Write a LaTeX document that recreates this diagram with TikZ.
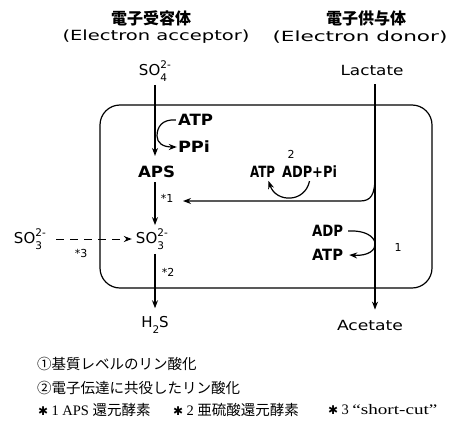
\documentclass[tikz,border=0pt]{standalone}
\usepackage{fontspec}
\usepackage{graphicx}
\usetikzlibrary{arrows.meta}
\newfontfamily\djv{DejaVu Sans}
\newfontfamily\jpf{Noto Sans CJK JP}
\newfontfamily\serf{Liberation Serif}
\newcommand\fitw[2]{\resizebox{#1}{\height}{#2}}
\newcommand\ionz[3]{#1\rlap{\raisebox{0.5em}{\fontsize{10.5}{10.5}\selectfont #3}}\raisebox{-0.4em}{\fontsize{10.5}{10.5}\selectfont #2}}
\tikzset{
  ln/.style={line width=1.2pt},
  arr/.style={ln, -{Stealth[length=8pt,width=6pt]}},
  lab/.style={inner sep=0pt, font=\djv\fontsize{14}{16}\selectfont},
  ionlab/.style={inner sep=0pt, font=\djv\fontsize{15}{17}\selectfont},
  blab/.style={inner sep=0pt, font=\djv\bfseries\fontsize{15.5}{17}\selectfont},
  sml/.style={inner sep=0pt, font=\djv\fontsize{11}{13}\selectfont},
  jph/.style={inner sep=0pt, font=\jpf\bfseries\fontsize{16}{18}\selectfont},
  fn/.style={inner sep=0pt, anchor=west, font=\jpf\fontsize{14.5}{16}\selectfont},
}
\newcommand\starx{{\djv\fontsize{12}{14}\selectfont ✱}}
\begin{document}
\begin{tikzpicture}[x=1pt,y=-1pt]
\useasboundingbox (0,0) rectangle (449,423);
% column guides
\coordinate (L) at (155,0);
\coordinate (R) at (375,0);
% headers
\node[jph] (hJ1) at (151,18) {電子受容体};
\node[lab] (hE1) at (156,37) {\fitw{187pt}{(Electron acceptor)}};
\node[jph] (hJ2) at (366,18) {電子供与体};
\node[lab] (hE2) at (360,37) {\fitw{175pt}{(Electron donor)}};
% cell box
\draw[ln, rounded corners=20pt] (100,105) rectangle (432,288);
% left column
\node[ionlab] (so4) at (153,71) {\ionz{SO}{4}{2-}};
\node[blab] (atp1) at (195.5,120) {\fitw{35pt}{ATP}};
\node[blab] (ppi) at (194,147) {\fitw{32pt}{PPi}};
\node[blab] (aps) at (156.5,172) {\fitw{37pt}{APS}};
\node[ionlab] (so3) at (150,239) {\ionz{SO}{3}{2-}};
\node[ionlab] (so3L) at (28,239) {\ionz{SO}{3}{2-}};
\node[ionlab] (h2s) at (155,325) {\ionz{H}{2}{}S};
\node[sml] (s1) at (167,198) {*1};
\node[sml] (s2) at (168,272) {*2};
\node[sml] (s3) at (81,253) {*3};
% right column
\node[lab] (lac) at (372,70) {\fitw{63pt}{Lactate}};
\node[lab] (ace) at (370,325) {\fitw{66pt}{Acetate}};
\node[blab] (atp2) at (262.5,172) {\fitw{25pt}{ATP}};
\node[blab] (adp2) at (309.5,172) {\fitw{55pt}{ADP+Pi}};
\node[sml] (two) at (291,154) {2};
\node[blab] (adp3) at (327.5,231) {\fitw{31pt}{ADP}};
\node[blab] (atp3) at (327.5,255) {\fitw{31pt}{ATP}};
\node[sml] (one) at (398,247) {1};
\coordinate (br) at (375,176);
\coordinate (brEnd) at (183,201);
% connectors
\draw[arr, shorten <=3pt, shorten >=10pt] (so4.south -| L) -- (aps.north -| L);
\draw[arr, shorten <=4pt, shorten >=3pt] (aps.south -| L) -- (so3.north -| L);
\draw[arr, shorten <=4pt, shorten >=8pt] (so3.south -| L) -- (h2s.north -| L);
\draw[arr, shorten <=9pt, shorten >=10pt] (lac.south -| R) -- (ace.north -| R);
\draw[arr, line width=1pt, dash pattern=on 8pt off 6pt] ([xshift=14pt]so3L.east) -- ([xshift=-4pt]so3.west);
\draw[arr] ([xshift=-2pt]atp1.west) .. controls (162,119) and (157,127) .. (157,136)
   .. controls (157,143) and (163,147) .. ([xshift=-1pt]ppi.west);
\draw[arr] ([yshift=-3pt]adp2.south) .. controls (305,203) and (276,203) .. ([xshift=6pt,yshift=-3pt]atp2.south);
\draw[arr] ([xshift=5pt]adp3.east) .. controls (382,229) and (384,257) .. ([xshift=6pt]atp3.east);
\draw[arr] (br) .. controls (375,195) and (371,201) .. (360,201) -- (brEnd);
% footnotes
\node[fn] (f1) at (37,364) {①基質レベルのリン酸化};
\node[fn] (f2) at (37,388) {②電子伝達に共役したリン酸化};
\node[fn] (f3a) at (38,410) {\starx\ {\serf 1 APS }還元酵素};
\node[fn] (f3b) at (173,410) {\starx\ {\serf 2 }亜硫酸還元酵素};
\node[fn] (f3c) at (328,410) {\starx\ {\serf 3 \fitw{85pt}{“short-cut”}}};
\end{tikzpicture}
\end{document}
